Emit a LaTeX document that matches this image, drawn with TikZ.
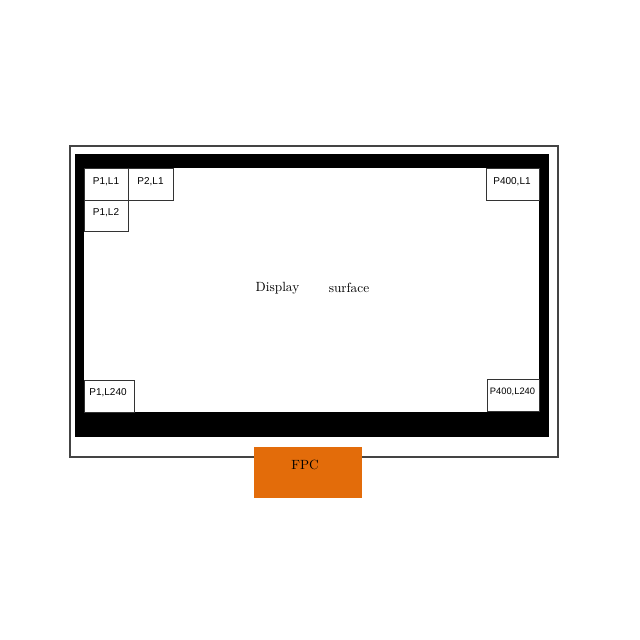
\documentclass[tikz,border=0pt]{standalone}
\usepackage{fontspec}
\newfontfamily\labelfont{Liberation Sans}
\definecolor{fpcorange}{HTML}{E36C0A}
\definecolor{framegray}{HTML}{444444}
\begin{document}
\begin{tikzpicture}[x=0.75pt,y=-0.75pt,
  cellbox/.style={draw=black!80,line width=0.7pt,fill=white},
  celltext/.style={font=\labelfont\fontsize{7.5}{9}\selectfont,inner sep=0pt},
  frame/.style={draw=framegray,line width=0.9pt,fill=white},
  bezel/.style={fill=black},
  serif/.style={font=\fontsize{10}{12}\selectfont,inner sep=0pt}]
\useasboundingbox (0,0) rectangle (640,640);
\fill[white] (0,0) rectangle (640,640);
% outer frame
\draw[frame] (70,146) rectangle (558,457);
% bezel and display area
\fill[bezel] (75,154) rectangle (549,437);
\fill[white] (84,168) rectangle (539,412);
% FPC
\node[fill=fpcorange,draw=fpcorange,minimum width=80pt,minimum height=37.5pt,inner sep=0pt,anchor=north west] (fpc) at (254,447) {};
\node[serif] (fpclabel) at (305,465) {FPC};
% cells
\draw[cellbox] (84,168) rectangle (128,200);
\node[celltext] (p1l1) at (106,182) {P1,L1};
\draw[cellbox] (128,168) rectangle (173,200);
\node[celltext] (p2l1) at (150.5,182) {P2,L1};
\draw[cellbox] (84,200) rectangle (128,231);
\node[celltext] (p1l2) at (106,213) {P1,L2};
\draw[cellbox] (486,168) rectangle (539,200);
\node[celltext] (p400l1) at (512,182) {P400,L1};
\draw[cellbox] (84,380) rectangle (134,412);
\node[celltext] (p1l240) at (108,393) {P1,L240};
\draw[cellbox] (487,379) rectangle (539,411);
\node[celltext,font=\labelfont\fontsize{7}{8}\selectfont] (p400l240) at (512.5,392) {P400,L240};
% centre label
\node[serif] (display) at (277.5,288) {Display};
\node[serif] (surface) at (349,288) {surface};
\end{tikzpicture}
\end{document}
